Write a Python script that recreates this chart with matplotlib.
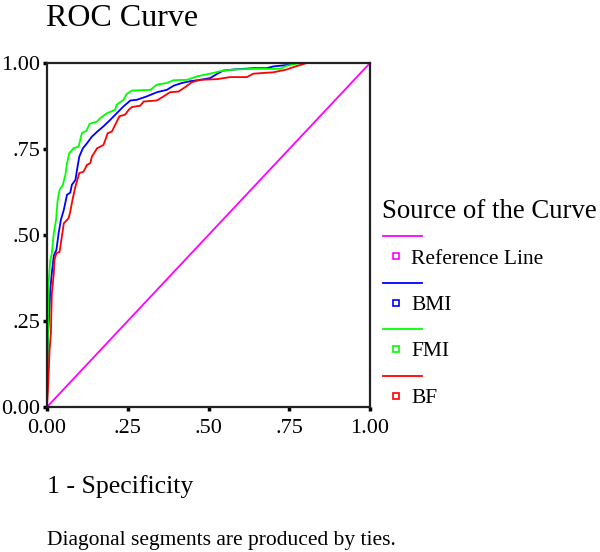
import matplotlib
matplotlib.use("Agg")
import matplotlib.pyplot as plt
from matplotlib.lines import Line2D

# data (1 - specificity, sensitivity)
bmi_x = [0.0, 0.003, 0.007, 0.010, 0.015, 0.021, 0.029, 0.036, 0.043, 0.052, 0.062, 0.072, 0.077,
         0.088, 0.093, 0.100, 0.111, 0.124, 0.139, 0.155, 0.175, 0.196, 0.216, 0.237, 0.258,
         0.278, 0.309, 0.340, 0.371, 0.392, 0.418, 0.443, 0.474, 0.505, 0.526, 0.546, 0.577,
         0.639, 0.680, 0.701, 0.742, 0.763, 1.0]
bmi_y = [0.0, 0.21, 0.27, 0.34, 0.39, 0.44, 0.456, 0.505, 0.544, 0.573, 0.617, 0.623, 0.646,
         0.66, 0.69, 0.728, 0.752, 0.767, 0.786, 0.80, 0.816, 0.835, 0.854, 0.874, 0.891,
         0.893, 0.903, 0.915, 0.922, 0.934, 0.942, 0.947, 0.951, 0.956, 0.968, 0.978, 0.981,
         0.985, 0.985, 0.99, 0.994, 1.0, 1.0]

fmi_x = [0.0, 0.005, 0.010, 0.015, 0.021, 0.028, 0.033, 0.039, 0.049, 0.057, 0.062, 0.069, 0.082,
         0.098, 0.108, 0.122, 0.132, 0.155, 0.165, 0.186, 0.211, 0.216, 0.237, 0.247, 0.263,
         0.320, 0.340, 0.371, 0.392, 0.433, 0.464, 0.505, 0.536, 0.577, 0.639, 0.722, 0.742,
         0.784, 1.0]
fmi_y = [0.0, 0.359, 0.427, 0.447, 0.505, 0.544, 0.602, 0.631, 0.646, 0.675, 0.709, 0.738, 0.752,
         0.757, 0.796, 0.803, 0.823, 0.83, 0.84, 0.854, 0.864, 0.879, 0.893, 0.91, 0.92,
         0.922, 0.937, 0.942, 0.95, 0.951, 0.961, 0.969, 0.976, 0.981, 0.983, 0.983, 0.992,
         1.0, 1.0]

bf_x = [0.0, 0.005, 0.008, 0.012, 0.015, 0.021, 0.023, 0.029, 0.039, 0.052, 0.067, 0.072, 0.080,
        0.088, 0.100, 0.113, 0.124, 0.134, 0.139, 0.155, 0.175, 0.188, 0.201, 0.211, 0.224,
        0.242, 0.253, 0.263, 0.289, 0.299, 0.340, 0.361, 0.381, 0.407, 0.428, 0.448, 0.474,
        0.526, 0.567, 0.619, 0.639, 0.701, 0.742, 0.763, 0.794, 0.804, 1.0]
bf_y = [0.0, 0.092, 0.165, 0.214, 0.33, 0.388, 0.427, 0.447, 0.451, 0.534, 0.549, 0.568, 0.607,
        0.641, 0.68, 0.684, 0.704, 0.709, 0.728, 0.752, 0.762, 0.796, 0.801, 0.82, 0.845,
        0.85, 0.864, 0.872, 0.876, 0.888, 0.891, 0.903, 0.915, 0.917, 0.93, 0.944, 0.951,
        0.953, 0.959, 0.959, 0.969, 0.973, 0.981, 0.988, 0.997, 1.0, 1.0]

ref_x = [0.0, 1.0]
ref_y = [0.0, 1.0]

labels = ["Reference Line", "BMI", "FMI", "BF"]
colors = ["#ff00ff", "#0000ff", "#00ff00", "#ff0000"]
ticks = [0.0, 0.25, 0.5, 0.75, 1.0]
tick_labels = ["0.00", ".25", ".50", ".75", "1.00"]

plt.rcParams['font.family'] = ['Liberation Serif', 'DejaVu Serif']

W, H = 600, 552
fig = plt.figure(figsize=(W / 100, H / 100), dpi=100)
ax = fig.add_axes([47 / W, (H - 407) / H, 323 / W, 344 / H])

series = [(ref_x, ref_y), (bmi_x, bmi_y), (fmi_x, fmi_y), (bf_x, bf_y)]
for (xs, ys), c in zip(series, colors):
    ax.plot(xs, ys, color=c, lw=1.3, solid_joinstyle='miter')

ax.set_xlim(0, 1)
ax.set_ylim(0, 1)
ax.set_xticks(ticks)
ax.set_xticklabels(tick_labels)
ax.set_yticks(ticks)
ax.set_yticklabels(tick_labels)
ax.tick_params(direction='out', length=3, width=2.5, labelsize=16, color='black')
ax.tick_params(axis='x', pad=5.5)
ax.tick_params(axis='y', pad=2)
for s in ax.spines.values():
    s.set_linewidth(1.6)
    s.set_color('#222222')


def fx(px):
    return px / W


def fy(py):
    return 1 - py / H


fig.text(fx(46), fy(19), "ROC Curve", fontsize=23, va='center', ha='left')
fig.text(fx(47), fy(487), "1 - Specificity", fontsize=18.5, va='center', ha='left')
fig.text(fx(47), fy(540), "Diagonal segments are produced by ties.", fontsize=15.5,
         va='center', ha='left')

# legend drawn by hand in the SPSS style: line on one row, square + label below
fig.text(fx(382), fy(211), "Source of the Curve", fontsize=19.3, va='center', ha='left')
row = 46.5
for i, (lab, c) in enumerate(zip(labels, colors)):
    yl = 236 + i * row
    ys = 256 + i * row
    fig.add_artist(Line2D([fx(383), fx(422)], [fy(yl), fy(yl)], color=c, lw=1.3))
    fig.add_artist(Line2D([fx(396)], [fy(ys)], marker='s', markersize=5, mfc='white',
                          mec=c, mew=1.2, ls='none'))
    fig.text(fx(411), fy(ys + 3), lab, fontsize=15.5, va='center', ha='left')

fig.savefig("out.png", dpi=100)
